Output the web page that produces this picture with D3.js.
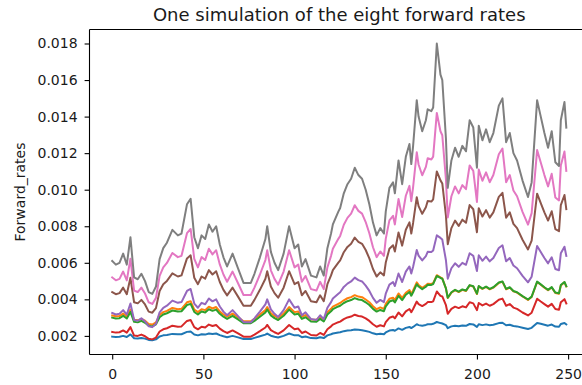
<!DOCTYPE html>
<html>
<head>
<meta charset="utf-8">
<script src="https://cdn.jsdelivr.net/npm/d3@7"></script>
<style>
  html, body { margin: 0; padding: 0; background: #ffffff; }
  svg { display: block; font-family: "DejaVu Sans", sans-serif; }
</style>
</head>
<body>
<svg id="chart" width="582" height="385"></svg>
<script>
// Simulation days at which each forward rate path is sampled
const days = [0,2,4,6,8,10,12,14,16,18,20,22,24,26,28,30,33,36,38,41,43,45,47,49,51,53,55,57,59,61,63,66,69,72,76,78,81,84,85,87,89,91,94,97,100,102,104,106,109,112,114,116,118,120,121,124,125,127,129,131,133,135,137,139,141,143,145,147,149,150,152,154,155,157,159,161,163,164,165,167,168,170,172,173,175,176,178,180,181,183,184,186,188,190,192,194,196,198,200,201,203,205,207,209,212,214,216,218,220,222,225,228,230,233,235,237,239,241,243,245,246,248,249];

// Forward rate 1..8, one value per simulation day above
const rate1 = [0.00196,0.00194,0.00195,0.00200,0.00194,0.00208,0.00187,0.00186,0.00189,0.00185,
  0.00178,0.00176,0.00181,0.00197,0.00203,0.00205,0.00211,0.00209,0.00209,0.00222,
  0.00224,0.00208,0.00203,0.00209,0.00207,0.00213,0.00210,0.00213,0.00204,0.00198,
  0.00193,0.00200,0.00192,0.00183,0.00183,0.00189,0.00198,0.00207,0.00213,0.00201,
  0.00195,0.00191,0.00200,0.00213,0.00203,0.00204,0.00193,0.00197,0.00188,0.00187,
  0.00193,0.00188,0.00203,0.00209,0.00213,0.00219,0.00220,0.00226,0.00229,0.00231,
  0.00235,0.00233,0.00231,0.00227,0.00222,0.00214,0.00209,0.00212,0.00209,0.00219,
  0.00229,0.00232,0.00228,0.00241,0.00233,0.00244,0.00249,0.00243,0.00249,0.00264,
  0.00259,0.00256,0.00260,0.00264,0.00264,0.00266,0.00276,0.00270,0.00268,0.00259,
  0.00242,0.00252,0.00256,0.00253,0.00257,0.00255,0.00265,0.00263,0.00249,0.00264,
  0.00259,0.00263,0.00258,0.00261,0.00270,0.00272,0.00258,0.00261,0.00254,0.00252,
  0.00245,0.00238,0.00244,0.00271,0.00266,0.00261,0.00256,0.00262,0.00251,0.00250,
  0.00265,0.00271,0.00263];

const rate2 = [0.00312,0.00307,0.00309,0.00322,0.00307,0.00344,0.00288,0.00285,0.00293,0.00283,
  0.00265,0.00262,0.00274,0.00314,0.00330,0.00337,0.00353,0.00346,0.00348,0.00384,
  0.00390,0.00344,0.00330,0.00346,0.00341,0.00360,0.00350,0.00358,0.00334,0.00317,
  0.00305,0.00322,0.00302,0.00280,0.00280,0.00293,0.00317,0.00341,0.00358,0.00324,
  0.00309,0.00298,0.00322,0.00358,0.00330,0.00334,0.00305,0.00314,0.00290,0.00288,
  0.00305,0.00290,0.00330,0.00348,0.00360,0.00375,0.00380,0.00395,0.00406,0.00412,
  0.00423,0.00415,0.00412,0.00399,0.00384,0.00362,0.00346,0.00356,0.00348,0.00375,
  0.00403,0.00409,0.00396,0.00432,0.00408,0.00436,0.00451,0.00430,0.00449,0.00493,
  0.00479,0.00463,0.00476,0.00486,0.00484,0.00489,0.00532,0.00520,0.00515,0.00460,
  0.00407,0.00437,0.00450,0.00440,0.00452,0.00446,0.00476,0.00470,0.00429,0.00471,
  0.00457,0.00468,0.00455,0.00464,0.00490,0.00496,0.00455,0.00464,0.00444,0.00437,
  0.00416,0.00397,0.00413,0.00495,0.00480,0.00464,0.00450,0.00465,0.00435,0.00431,
  0.00476,0.00493,0.00470];

const rate3 = [0.00300,0.00295,0.00297,0.00310,0.00295,0.00331,0.00277,0.00274,0.00282,0.00272,
  0.00255,0.00252,0.00263,0.00302,0.00317,0.00324,0.00339,0.00333,0.00335,0.00369,
  0.00375,0.00331,0.00317,0.00333,0.00328,0.00346,0.00337,0.00344,0.00321,0.00305,
  0.00293,0.00310,0.00290,0.00269,0.00269,0.00282,0.00305,0.00328,0.00344,0.00312,
  0.00297,0.00287,0.00310,0.00344,0.00317,0.00321,0.00293,0.00302,0.00279,0.00277,
  0.00293,0.00279,0.00317,0.00335,0.00346,0.00361,0.00365,0.00380,0.00390,0.00396,
  0.00407,0.00399,0.00396,0.00384,0.00369,0.00348,0.00333,0.00342,0.00335,0.00361,
  0.00388,0.00395,0.00383,0.00419,0.00396,0.00425,0.00440,0.00420,0.00439,0.00483,
  0.00470,0.00456,0.00469,0.00480,0.00479,0.00484,0.00528,0.00517,0.00513,0.00460,
  0.00409,0.00439,0.00452,0.00442,0.00454,0.00448,0.00478,0.00472,0.00431,0.00473,
  0.00459,0.00470,0.00457,0.00466,0.00492,0.00498,0.00457,0.00466,0.00446,0.00439,
  0.00418,0.00399,0.00415,0.00497,0.00482,0.00466,0.00452,0.00467,0.00437,0.00433,
  0.00478,0.00495,0.00472];

const rate4 = [0.00222,0.00218,0.00220,0.00230,0.00218,0.00248,0.00202,0.00200,0.00207,0.00198,
  0.00184,0.00181,0.00191,0.00224,0.00236,0.00242,0.00256,0.00250,0.00252,0.00282,
  0.00287,0.00248,0.00236,0.00250,0.00246,0.00262,0.00254,0.00260,0.00240,0.00226,
  0.00216,0.00230,0.00214,0.00196,0.00196,0.00207,0.00226,0.00246,0.00260,0.00232,
  0.00220,0.00211,0.00230,0.00260,0.00236,0.00240,0.00216,0.00224,0.00205,0.00202,
  0.00216,0.00205,0.00236,0.00252,0.00262,0.00275,0.00278,0.00292,0.00301,0.00306,
  0.00316,0.00309,0.00306,0.00296,0.00282,0.00264,0.00250,0.00258,0.00252,0.00275,
  0.00299,0.00306,0.00296,0.00328,0.00307,0.00334,0.00347,0.00330,0.00347,0.00388,
  0.00374,0.00363,0.00375,0.00385,0.00385,0.00389,0.00443,0.00419,0.00416,0.00368,
  0.00321,0.00348,0.00360,0.00352,0.00362,0.00356,0.00384,0.00378,0.00341,0.00380,
  0.00367,0.00377,0.00365,0.00374,0.00398,0.00404,0.00365,0.00374,0.00355,0.00348,
  0.00328,0.00312,0.00327,0.00403,0.00388,0.00374,0.00360,0.00375,0.00347,0.00343,
  0.00384,0.00401,0.00378];

const rate5 = [0.00325,0.00317,0.00321,0.00341,0.00317,0.00377,0.00287,0.00283,0.00296,0.00279,
  0.00253,0.00248,0.00266,0.00329,0.00354,0.00365,0.00393,0.00381,0.00385,0.00446,
  0.00457,0.00377,0.00354,0.00381,0.00373,0.00405,0.00389,0.00400,0.00361,0.00333,
  0.00313,0.00341,0.00308,0.00275,0.00275,0.00296,0.00333,0.00373,0.00400,0.00345,
  0.00321,0.00304,0.00341,0.00400,0.00354,0.00361,0.00313,0.00329,0.00292,0.00287,
  0.00313,0.00292,0.00354,0.00385,0.00405,0.00431,0.00439,0.00468,0.00486,0.00498,
  0.00519,0.00505,0.00498,0.00475,0.00446,0.00408,0.00381,0.00397,0.00385,0.00431,
  0.00481,0.00494,0.00473,0.00541,0.00495,0.00552,0.00580,0.00541,0.00578,0.00670,
  0.00639,0.00613,0.00637,0.00660,0.00659,0.00667,0.00750,0.00736,0.00727,0.00614,
  0.00513,0.00570,0.00597,0.00578,0.00600,0.00589,0.00652,0.00638,0.00555,0.00641,
  0.00611,0.00634,0.00608,0.00626,0.00681,0.00696,0.00608,0.00626,0.00585,0.00570,
  0.00528,0.00493,0.00524,0.00692,0.00659,0.00626,0.00597,0.00630,0.00566,0.00559,
  0.00652,0.00688,0.00638];

const rate6 = [0.00440,0.00428,0.00434,0.00464,0.00428,0.00518,0.00384,0.00378,0.00397,0.00372,
  0.00333,0.00327,0.00352,0.00446,0.00483,0.00501,0.00542,0.00525,0.00531,0.00624,
  0.00641,0.00518,0.00483,0.00525,0.00513,0.00560,0.00536,0.00554,0.00495,0.00452,
  0.00422,0.00464,0.00415,0.00365,0.00365,0.00397,0.00452,0.00513,0.00554,0.00470,
  0.00434,0.00409,0.00464,0.00554,0.00483,0.00495,0.00422,0.00446,0.00390,0.00384,
  0.00422,0.00390,0.00483,0.00531,0.00560,0.00601,0.00613,0.00658,0.00687,0.00704,
  0.00738,0.00715,0.00704,0.00670,0.00624,0.00566,0.00525,0.00548,0.00531,0.00601,
  0.00677,0.00696,0.00662,0.00766,0.00694,0.00781,0.00821,0.00760,0.00818,0.00959,
  0.00910,0.00868,0.00904,0.00938,0.00935,0.00947,0.01100,0.01051,0.01034,0.00858,
  0.00702,0.00790,0.00831,0.00802,0.00836,0.00819,0.00916,0.00893,0.00767,0.00899,
  0.00853,0.00888,0.00847,0.00876,0.00961,0.00983,0.00847,0.00876,0.00813,0.00790,
  0.00726,0.00673,0.00721,0.00978,0.00927,0.00876,0.00831,0.00882,0.00784,0.00773,
  0.00916,0.00971,0.00893];

const rate7 = [0.00520,0.00504,0.00512,0.00552,0.00504,0.00622,0.00448,0.00440,0.00464,0.00432,
  0.00384,0.00375,0.00408,0.00528,0.00575,0.00599,0.00654,0.00631,0.00638,0.00762,
  0.00785,0.00622,0.00575,0.00631,0.00615,0.00677,0.00646,0.00669,0.00591,0.00536,
  0.00496,0.00552,0.00488,0.00424,0.00424,0.00464,0.00536,0.00615,0.00669,0.00559,
  0.00512,0.00480,0.00552,0.00669,0.00575,0.00591,0.00496,0.00528,0.00456,0.00448,
  0.00496,0.00456,0.00575,0.00638,0.00677,0.00731,0.00747,0.00808,0.00846,0.00869,
  0.00915,0.00884,0.00869,0.00823,0.00762,0.00685,0.00631,0.00662,0.00638,0.00731,
  0.00832,0.00857,0.00810,0.00949,0.00850,0.00967,0.01021,0.00937,0.01014,0.01205,
  0.01138,0.01079,0.01125,0.01172,0.01165,0.01181,0.01420,0.01320,0.01298,0.01056,
  0.00848,0.00964,0.01018,0.00980,0.01025,0.01003,0.01133,0.01103,0.00933,0.01110,
  0.01049,0.01095,0.01041,0.01080,0.01194,0.01225,0.01041,0.01080,0.00996,0.00964,
  0.00879,0.00809,0.00872,0.01217,0.01149,0.01080,0.01018,0.01087,0.00957,0.00941,
  0.01133,0.01209,0.01103];

const rate8 = [0.0061,0.0059,0.0060,0.0065,0.0059,0.0074,0.0052,0.0051,0.0054,0.0050,
  0.0044,0.0043,0.0047,0.0062,0.0068,0.0071,0.0078,0.0075,0.0076,0.0092,
  0.0095,0.0074,0.0068,0.0075,0.0073,0.0081,0.0077,0.0080,0.0070,0.0063,
  0.0058,0.0065,0.0057,0.0049,0.0049,0.0054,0.0063,0.0073,0.0080,0.0066,
  0.0060,0.0056,0.0065,0.0080,0.0068,0.0070,0.0058,0.0062,0.0053,0.0052,
  0.0058,0.0053,0.0068,0.0076,0.0081,0.0088,0.0090,0.0098,0.0103,0.0106,
  0.0112,0.0108,0.0106,0.0100,0.0092,0.0082,0.0075,0.0079,0.0076,0.0088,
  0.0101,0.0104,0.0098,0.0116,0.0103,0.0118,0.0125,0.0114,0.0124,0.0149,
  0.0140,0.0132,0.0138,0.0144,0.0143,0.0145,0.0180,0.0163,0.0160,0.0128,
  0.0101,0.0116,0.0123,0.0118,0.0124,0.0121,0.0138,0.0134,0.0112,0.0135,
  0.0127,0.0133,0.0126,0.0131,0.0146,0.0150,0.0126,0.0131,0.0120,0.0116,
  0.0105,0.0096,0.0104,0.0149,0.0140,0.0131,0.0123,0.0132,0.0115,0.0113,
  0.0138,0.0148,0.0134];

const rates = [rate1, rate2, rate3, rate4, rate5, rate6, rate7, rate8];
const rateColors = ["#1f77b4", "#ff7f0e", "#2ca02c", "#d62728", "#9467bd", "#8c564b", "#e377c2", "#7f7f7f"];

const xTicks = [0, 50, 100, 150, 200, 250];
const yTicks = [0.002, 0.004, 0.006, 0.008, 0.010, 0.012, 0.014, 0.016, 0.018];

const titleText = "One simulation of the eight forward rates";
const yLabelText = "Forward_rates";

// ---- layout ----
const svg = d3.select("#chart");
const box = { left: 89.5, top: 29.5, right: 589, bottom: 354.5 };

const x = d3.scaleLinear().domain([-12.45, 261.45]).range([box.left, box.right]);
const y = d3.scaleLinear().domain([0.000982, 0.018766]).range([box.bottom, box.top]);

// ---- lines ----
const line = d3.line()
  .x((d, i) => x(days[i]))
  .y(d => y(d));

svg.append("g")
  .selectAll("path")
  .data(rates)
  .join("path")
  .attr("fill", "none")
  .attr("stroke", (d, i) => rateColors[i])
  .attr("stroke-width", 2)
  .attr("stroke-linejoin", "round")
  .attr("stroke-linecap", "square")
  .attr("d", d => line(d.slice(0, days.length)));

// ---- axes ----
const tickLen = 4.9;
const xAxis = svg.append("g")
  .attr("transform", `translate(0,${box.bottom})`)
  .call(d3.axisBottom(x).tickValues(xTicks).tickSize(tickLen).tickFormat(d3.format("d")));
xAxis.select(".domain").remove();
xAxis.selectAll(".tick line").attr("stroke", "#000").attr("stroke-width", 1.1);
xAxis.selectAll(".tick text")
  .attr("y", 24).attr("dy", 0)
  .attr("fill", "#1a1a1a")
  .style("font-size", "14px")
  .style("font-family", "'DejaVu Sans', sans-serif");

const yAxis = svg.append("g")
  .attr("transform", `translate(${box.left},0)`)
  .call(d3.axisLeft(y).tickValues(yTicks).tickSize(tickLen).tickPadding(7).tickFormat(d3.format(".3f")));
yAxis.select(".domain").remove();
yAxis.selectAll(".tick line").attr("stroke", "#000").attr("stroke-width", 1.1);
yAxis.selectAll(".tick text")
  .attr("fill", "#1a1a1a")
  .style("font-size", "14px")
  .style("font-family", "'DejaVu Sans', sans-serif");

// ---- frame ----
const frame = svg.append("g")
  .attr("stroke", "#000")
  .attr("stroke-width", 1.1)
  .attr("fill", "none");
frame.append("line").attr("x1", box.left).attr("x2", box.left).attr("y1", box.top).attr("y2", box.bottom);
frame.append("line").attr("x1", box.right).attr("x2", box.right).attr("y1", box.top).attr("y2", box.bottom);
frame.append("line").attr("x1", box.left).attr("x2", box.right).attr("y1", box.top).attr("y2", box.top);
frame.append("line").attr("x1", box.left).attr("x2", box.right).attr("y1", box.bottom).attr("y2", box.bottom);

// ---- title and axis label ----
svg.append("text")
  .attr("x", (box.left + box.right) / 2)
  .attr("y", 21)
  .attr("text-anchor", "middle")
  .attr("fill", "#1a1a1a")
  .style("font-size", "18px")
  .text(titleText);

svg.append("text")
  .attr("transform", `translate(24.5,${(box.top + box.bottom) / 2}) rotate(-90)`)
  .attr("text-anchor", "middle")
  .attr("fill", "#1a1a1a")
  .style("font-size", "14px")
  .text(yLabelText);
</script>
</body>
</html>
